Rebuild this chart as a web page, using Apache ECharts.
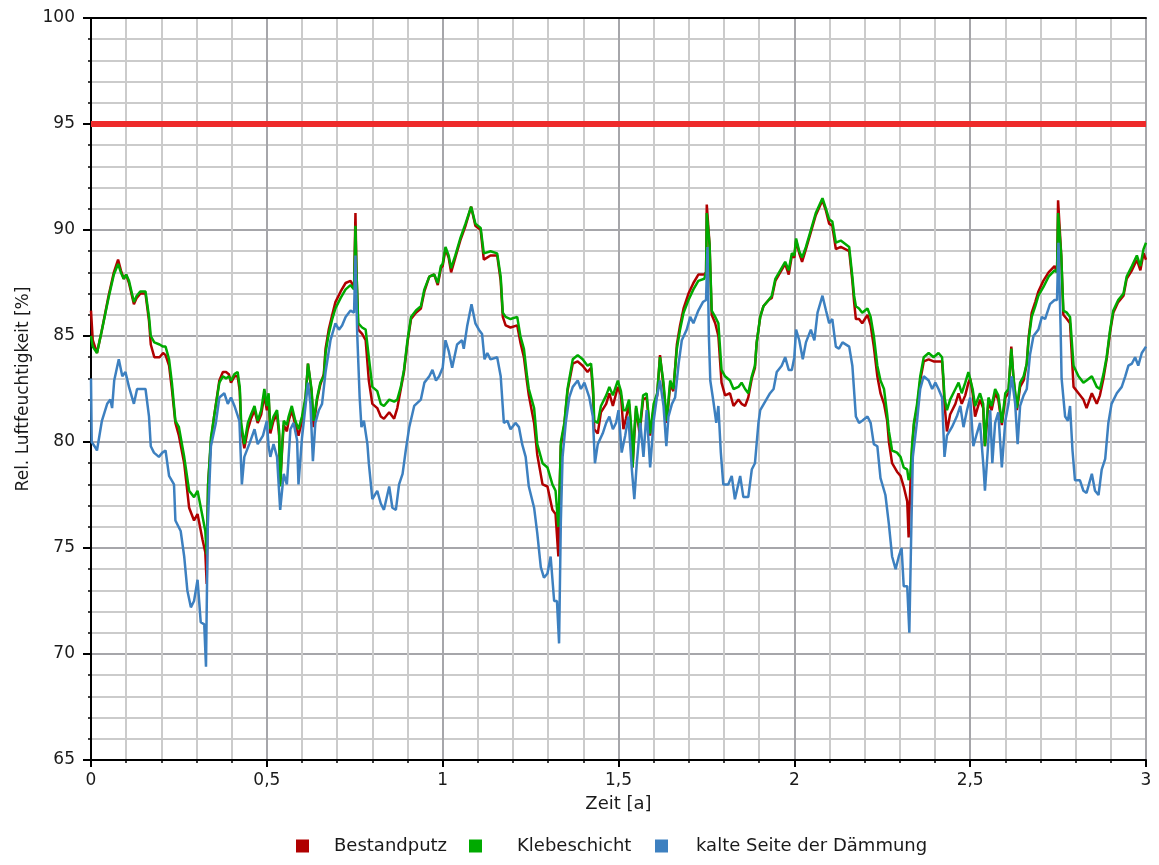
<!DOCTYPE html>
<html>
<head>
<meta charset="utf-8">
<script src="https://cdn.jsdelivr.net/npm/echarts@6/dist/echarts.min.js"></script>
<style>
html,body{margin:0;padding:0;background:#fff;}
#chart{width:1159px;height:865px;}
</style>
</head>
<body>
<div id="chart"></div>
<script>
// ---- Data ----
const seriesNames = ['Bestandputz', 'Klebeschicht', 'kalte Seite der Dämmung'];
const limitValue = 95;

// shared time axis [a] for Bestandputz / Klebeschicht
const timeInner = [
  0.000,0.005,0.017,0.030,0.050,0.065,0.077,0.085,0.093,0.100,0.108,0.122,0.130,0.140,0.155,0.165,0.170,0.180,0.195,0.205,0.212,0.222,0.230,0.240,0.250,0.265,0.279,0.293,0.303,0.317,0.325,0.329,0.333,0.341,0.350,0.365,0.375,0.384,0.392,0.398,0.408,0.417,0.423,0.427,0.436,0.446,0.455,0.465,0.474,0.484,0.493,0.500,
  0.505,0.510,0.519,0.529,0.535,0.538,0.544,0.548,0.557,0.562,0.571,0.581,0.590,0.600,0.610,0.617,0.627,0.633,0.643,0.652,0.662,0.667,0.676,0.686,0.695,0.710,0.724,0.738,0.748,0.752,0.755,0.760,0.771,0.781,0.790,0.800,0.814,0.824,0.833,0.848,0.862,0.871,0.881,0.890,0.900,0.910,0.924,0.938,0.948,0.962,0.976,0.986,0.995,
  1.000,1.008,1.017,1.024,1.036,1.050,1.065,1.081,1.093,1.108,1.117,1.136,1.155,1.165,1.171,1.179,1.193,1.212,1.221,1.231,1.240,1.245,1.260,1.269,1.284,1.298,1.312,1.321,1.329,1.333,1.336,1.346,1.355,1.370,1.384,1.398,1.412,1.422,1.428,1.431,1.441,1.450,1.465,1.474,1.484,1.498,
  1.507,1.514,1.521,1.530,1.537,1.540,1.545,1.550,1.560,1.570,1.580,1.590,1.600,1.610,1.618,1.628,1.637,1.647,1.656,1.666,1.675,1.685,1.699,1.713,1.727,1.744,1.749,1.751,1.759,1.765,1.775,1.784,1.793,1.803,1.817,1.827,1.841,1.850,1.860,1.869,1.879,1.888,1.893,1.903,1.912,1.927,1.936,1.946,1.960,1.974,1.984,1.993,
  2.000,2.005,2.014,2.022,2.033,2.047,2.061,2.080,2.090,2.099,2.108,2.118,2.132,2.156,2.165,2.170,2.175,2.184,2.193,2.208,2.217,2.226,2.236,2.245,2.255,2.264,2.269,2.278,2.292,2.302,2.311,2.321,2.325,2.330,2.335,2.340,2.349,2.358,2.368,2.382,2.396,2.410,2.420,2.424,2.427,2.434,2.443,2.458,2.467,2.476,2.486,2.495,
  2.500,2.507,2.514,2.528,2.537,2.542,2.547,2.552,2.561,2.571,2.580,2.590,2.600,2.609,2.617,2.623,2.633,2.642,2.652,2.661,2.666,2.675,2.685,2.694,2.708,2.723,2.740,2.747,2.750,2.759,2.765,2.775,2.784,2.794,2.808,2.822,2.831,2.846,2.860,2.869,2.879,2.888,2.898,2.907,2.921,2.936,2.945,2.960,2.974,2.984,2.993,3.000
];

const klebeschicht = [
  85.0,84.5,84.2,85.2,86.8,87.9,88.4,88.0,87.7,87.9,87.6,86.6,86.9,87.1,87.1,85.9,85.0,84.7,84.6,84.5,84.5,83.9,82.8,81.0,80.7,79.3,77.7,77.4,77.7,76.5,75.8,74.7,78.0,80.2,81.2,82.8,83.1,83.0,83.1,82.9,83.2,83.3,82.6,80.9,79.9,80.9,81.3,81.7,81.0,81.5,82.5,81.7,
  82.3,80.6,81.2,81.5,80.5,77.9,80.0,81.0,80.8,81.2,81.7,81.0,80.6,81.2,82.1,83.7,82.5,81.0,82.1,82.8,83.1,84.2,85.1,85.8,86.3,86.8,87.2,87.4,87.2,90.2,88.0,85.6,85.4,85.3,84.0,82.6,82.4,81.8,81.7,82.0,81.9,82.0,82.6,83.4,84.8,85.9,86.2,86.4,87.2,87.8,87.9,87.5,88.3,
  88.4,89.2,88.8,88.2,88.8,89.6,90.3,91.1,90.3,90.1,88.9,89.0,88.9,87.8,86.1,85.9,85.8,85.9,85.0,84.4,83.1,82.5,81.6,79.9,79.0,78.8,78.0,77.7,76.0,78.0,80.0,80.9,82.5,83.9,84.1,83.9,83.6,83.7,82.5,81.0,80.9,81.7,82.2,82.6,82.2,82.9,
  82.4,81.5,81.5,82.0,80.5,78.8,80.5,81.7,80.6,82.2,82.3,80.4,81.8,82.3,84.0,82.8,81.0,82.9,82.5,84.4,85.3,86.1,86.7,87.2,87.6,87.7,88.0,90.8,89.3,86.2,85.9,85.6,83.4,83.1,82.9,82.5,82.6,82.8,82.5,82.3,83.1,83.6,84.7,85.9,86.4,86.7,86.9,87.7,88.1,88.5,88.1,88.9,
  88.8,89.6,89.0,88.7,89.2,90.0,90.8,91.5,91.0,90.5,90.4,89.4,89.5,89.2,87.8,86.9,86.4,86.3,86.1,86.3,85.9,85.0,83.6,82.9,82.5,81.3,80.5,79.6,79.5,79.3,78.8,78.7,78.2,78.5,79.9,80.9,81.8,83.1,84.0,84.2,84.0,84.2,84.0,83.0,82.1,81.5,82.0,82.5,82.8,82.3,82.8,83.3,
  83.3,82.5,81.7,82.3,81.8,79.8,81.0,82.1,81.7,82.5,82.2,80.9,82.3,82.5,84.4,83.1,81.6,82.8,83.1,83.7,84.8,85.9,86.4,86.9,87.3,87.8,88.1,88.0,90.8,88.8,86.2,86.1,85.9,83.6,83.1,82.8,82.9,83.1,82.6,82.5,83.2,84.0,85.3,86.2,86.7,87.0,87.8,88.3,88.8,88.3,89.1,89.4
];

const bestandputz = [
  86.2,84.8,84.2,85.2,86.9,88.0,88.6,88.1,87.7,87.9,87.5,86.5,86.8,87.0,87.0,85.7,84.6,84.0,84.0,84.2,84.1,83.6,82.5,80.9,80.3,79.0,76.9,76.3,76.6,75.4,74.8,73.3,78.0,80.0,81.2,82.9,83.3,83.3,83.2,82.8,83.1,83.1,82.4,80.6,79.7,80.6,81.1,81.5,80.9,81.3,82.2,81.5,
  82.1,80.4,81.0,81.3,80.3,78.0,79.8,80.8,80.5,81.0,81.5,80.8,80.3,81.0,82.0,83.7,82.4,80.7,82.0,82.7,83.2,84.4,85.3,86.0,86.6,87.1,87.5,87.6,87.3,90.8,88.0,85.3,85.1,84.8,82.9,81.8,81.6,81.2,81.1,81.4,81.1,81.6,82.5,83.3,84.7,85.8,86.1,86.3,87.1,87.8,87.9,87.4,88.2,
  88.3,89.1,88.7,88.0,88.7,89.5,90.2,91.1,90.2,90.0,88.6,88.8,88.8,87.6,85.9,85.5,85.4,85.5,84.7,84.0,82.8,82.2,80.9,79.4,78.0,77.9,76.8,76.6,74.6,78.0,79.8,80.8,82.4,83.7,83.8,83.6,83.3,83.5,82.2,80.6,80.4,81.4,81.8,82.3,81.7,82.6,
  82.2,80.6,81.1,81.8,80.2,78.8,80.3,81.6,80.4,82.0,82.1,80.3,81.6,82.2,84.1,82.6,80.9,82.7,82.4,84.6,85.5,86.3,87.0,87.5,87.9,87.9,88.0,91.2,89.3,86.0,85.6,85.0,82.8,82.2,82.3,81.7,82.0,81.8,81.7,82.1,83.0,83.5,84.7,85.9,86.4,86.7,86.8,87.6,88.0,88.4,87.9,88.8,
  88.7,89.5,88.9,88.5,89.1,89.9,90.7,91.4,90.9,90.3,90.2,89.1,89.2,89.0,87.6,86.6,85.8,85.8,85.6,86.0,85.5,84.5,83.1,82.3,81.8,81.0,80.0,79.0,78.6,78.4,77.9,77.2,75.5,78.0,79.7,80.8,81.6,82.9,83.8,83.9,83.8,83.8,83.8,82.8,81.8,80.5,81.3,81.8,82.3,81.8,82.2,82.8,
  83.0,82.3,81.2,82.0,81.6,79.8,80.8,81.9,81.5,82.3,82.0,80.8,82.1,82.3,84.5,83.0,81.5,82.6,82.9,83.7,84.9,86.1,86.6,87.1,87.6,88.0,88.3,88.0,91.4,88.8,86.0,85.8,85.6,82.6,82.3,82.0,81.6,82.3,81.8,82.2,83.0,83.9,85.2,86.1,86.6,86.9,87.7,88.1,88.6,88.1,88.9,88.6
];

// time axis [a] for the cold side of the insulation
const timeCold = [
  0.000,0.002,0.010,0.017,0.031,0.046,0.055,0.060,0.066,0.079,0.089,0.098,0.108,0.122,0.131,0.155,0.165,0.170,0.179,0.193,0.203,0.212,0.222,0.236,0.240,0.255,0.265,0.274,0.284,0.293,0.303,0.312,0.322,0.327,0.332,0.341,0.355,0.365,0.379,0.389,0.398,0.408,0.422,0.429,0.436,0.450,0.465,0.474,0.489,0.500,
  0.505,0.510,0.519,0.529,0.538,0.548,0.557,0.567,0.576,0.586,0.590,0.600,0.610,0.617,0.624,0.631,0.638,0.648,0.657,0.667,0.681,0.695,0.705,0.714,0.724,0.738,0.748,0.752,0.757,0.764,0.769,0.776,0.786,0.790,0.800,0.814,0.824,0.833,0.848,0.857,0.867,0.876,0.886,0.895,0.905,0.919,0.938,0.948,0.962,0.971,0.981,0.990,1.000,
  1.008,1.017,1.027,1.041,1.055,1.060,1.070,1.082,1.093,1.103,1.112,1.119,1.127,1.136,1.155,1.165,1.174,1.184,1.193,1.207,1.217,1.226,1.236,1.245,1.260,1.269,1.279,1.288,1.298,1.307,1.317,1.325,1.331,1.336,1.341,1.350,1.360,1.370,1.384,1.393,1.403,1.417,1.427,1.433,1.441,1.455,1.465,1.474,1.484,1.493,1.500,
  1.509,1.519,1.528,1.538,1.545,1.552,1.562,1.571,1.580,1.590,1.600,1.609,1.618,1.628,1.636,1.642,1.652,1.661,1.671,1.680,1.694,1.704,1.713,1.727,1.740,1.749,1.753,1.757,1.761,1.770,1.778,1.784,1.791,1.798,1.812,1.822,1.831,1.846,1.855,1.869,1.879,1.888,1.898,1.903,1.917,1.931,1.941,1.950,1.964,1.974,1.984,1.993,2.000,
  2.005,2.014,2.024,2.033,2.047,2.057,2.066,2.080,2.090,2.099,2.108,2.118,2.127,2.137,2.156,2.165,2.175,2.184,2.193,2.208,2.217,2.226,2.236,2.245,2.259,2.269,2.278,2.288,2.297,2.305,2.311,2.321,2.327,2.333,2.337,2.349,2.358,2.368,2.382,2.392,2.401,2.410,2.420,2.427,2.434,2.448,2.462,2.472,2.481,2.491,2.500,
  2.509,2.519,2.528,2.538,2.542,2.550,2.557,2.563,2.571,2.580,2.590,2.600,2.609,2.618,2.628,2.635,2.642,2.652,2.661,2.670,2.680,2.694,2.704,2.713,2.727,2.740,2.747,2.751,2.757,2.760,2.770,2.778,2.784,2.791,2.798,2.812,2.822,2.831,2.846,2.855,2.865,2.874,2.884,2.893,2.902,2.917,2.931,2.941,2.950,2.960,2.969,2.978,2.988,3.000
];

const kalteSeite = [
  83.0,80.0,79.8,79.6,81.0,81.8,82.0,81.6,82.9,83.9,83.1,83.3,82.6,81.8,82.5,82.5,81.2,79.8,79.5,79.3,79.5,79.6,78.4,78.0,76.3,75.8,74.6,73.0,72.2,72.5,73.5,71.5,71.4,69.4,76.0,79.8,80.9,82.1,82.3,81.8,82.1,81.7,81.0,78.0,79.3,79.9,80.6,79.9,80.3,81.0,
  79.8,79.3,79.9,79.3,76.8,78.5,78.0,80.6,80.9,80.1,78.0,80.2,81.7,82.8,81.8,79.1,80.9,81.5,81.8,83.3,84.8,85.6,85.3,85.5,85.9,86.2,86.1,88.8,85.1,82.1,80.7,81.0,79.9,79.0,77.3,77.7,77.1,76.8,77.9,76.9,76.8,78.0,78.5,79.6,80.7,81.7,82.0,82.8,83.1,83.4,82.9,83.1,83.5,
  84.8,84.3,83.5,84.6,84.8,84.4,85.5,86.5,85.6,85.3,85.1,83.9,84.2,83.9,84.0,83.1,80.9,81.0,80.6,80.9,80.7,79.9,79.3,77.9,76.9,75.7,74.1,73.6,73.8,74.6,72.5,72.5,70.5,76.2,79.3,80.9,82.1,82.6,82.9,82.5,82.8,82.1,81.2,79.0,79.9,80.4,80.9,81.2,80.6,80.9,81.5,
  79.5,80.3,81.2,78.7,77.3,79.0,80.9,79.3,81.5,78.8,81.0,82.1,82.9,81.7,79.8,81.2,81.8,82.1,83.7,84.8,85.3,85.9,85.6,86.2,86.6,86.7,89.2,85.0,82.9,81.9,80.9,81.7,79.5,78.0,78.0,78.4,77.3,78.4,77.4,77.4,78.7,79.0,80.9,81.5,81.9,82.3,82.5,83.3,83.6,84.0,83.4,83.4,84.0,
  85.3,84.8,83.9,84.7,85.3,84.8,86.1,86.9,86.2,85.6,85.8,84.5,84.4,84.7,84.5,83.6,81.2,80.9,81.0,81.2,80.9,79.9,79.8,78.3,77.5,76.1,74.6,74.0,74.6,75.0,73.2,73.2,71.0,76.2,79.3,81.0,82.5,83.1,82.9,82.5,82.8,82.5,82.1,79.3,80.3,80.7,81.2,81.7,80.7,81.5,82.1,
  79.8,80.4,80.9,78.8,77.7,79.6,81.5,79.0,80.9,81.4,78.8,81.0,81.8,83.1,81.8,79.9,81.7,82.2,82.5,84.1,85.0,85.3,85.9,85.8,86.5,86.7,86.7,89.4,85.5,83.0,81.2,81.0,81.7,79.6,78.2,78.2,77.7,77.6,78.5,77.7,77.5,78.7,79.2,80.9,81.8,82.3,82.6,83.1,83.6,83.7,84.0,83.6,84.2,84.5
];

const xRange = [0, 3];
const yRange = [65, 100];

// ---- Build chart ----
function pairs(ts, vs) {
  const n = Math.min(ts.length, vs.length);
  const out = [];
  for (let i = 0; i < n; i++) out.push([ts[i], vs[i]]);
  return out;
}
const FONT = 'DejaVu Sans';
const chart = echarts.init(document.getElementById('chart'), null, {renderer: 'canvas'});
const lineBase = {type: 'line', showSymbol: false, symbol: 'none', animation: false, lineStyle: {width: 2.5}, xAxisIndex: 0, yAxisIndex: 0};

function legendItem(name, left, textPad) {
  return {
    data: [name], left: left, top: 837, padding: 0,
    icon: 'rect', itemWidth: 13, itemHeight: 13,
    textStyle: {fontFamily: FONT, fontSize: 18, color: '#1a1a1a', padding: [0, 0, 0, textPad]}
  };
}

chart.setOption({
  backgroundColor: '#ffffff',
  animation: false,
  textStyle: {fontFamily: FONT},
  grid: {left: 91, right: 13, top: 18, bottom: 105, containLabel: false},
  legend: [
    legendItem(seriesNames[0], 296, 20),
    legendItem(seriesNames[1], 469, 30),
    legendItem(seriesNames[2], 655, 23)
  ],
  xAxis: [{
    type: 'value', min: xRange[0], max: xRange[1], interval: 0.5,
    name: 'Zeit [a]', nameLocation: 'middle', nameGap: 35,
    nameTextStyle: {fontFamily: FONT, fontSize: 18, color: '#1a1a1a'},
    axisLine: {show: true, onZero: false, lineStyle: {color: '#000', width: 2}},
    axisTick: {show: true, length: 7, lineStyle: {color: '#000', width: 2}},
    minorTick: {show: true, splitNumber: 5, length: 3, lineStyle: {color: '#000', width: 1.5}},
    axisLabel: {fontFamily: FONT, fontSize: 17, color: '#1a1a1a', margin: 12,
      formatter: v => String(+v.toFixed(2)).replace('.', ',')},
    splitLine: {show: true, lineStyle: {color: '#a6a6aa', width: 2}},
    minorSplitLine: {show: true, lineStyle: {color: '#cbcbcb', width: 2}}
  }, {
    type: 'value', min: xRange[0], max: xRange[1], position: 'top',
    axisLine: {show: true, onZero: false, lineStyle: {color: '#000', width: 2}},
    axisTick: {show: false}, axisLabel: {show: false}, splitLine: {show: false}
  }],
  yAxis: {
    type: 'value', min: yRange[0], max: yRange[1], interval: 5,
    name: 'Rel. Luftfeuchtigkeit [%]', nameLocation: 'middle', nameGap: 58,
    nameTextStyle: {fontFamily: FONT, fontSize: 17, color: '#1a1a1a'},
    axisLine: {show: true, onZero: false, lineStyle: {color: '#000', width: 2}},
    axisTick: {show: true, length: 8, lineStyle: {color: '#000', width: 2}},
    minorTick: {show: true, splitNumber: 5, length: 3, lineStyle: {color: '#000', width: 1.5}},
    axisLabel: {fontFamily: FONT, fontSize: 17, color: '#1a1a1a', margin: 16},
    splitLine: {show: true, lineStyle: {color: '#a6a6aa', width: 2}},
    minorSplitLine: {show: true, lineStyle: {color: '#cbcbcb', width: 2}}
  },
  series: [
    Object.assign({}, lineBase, {
      name: 'Grenzwert', data: pairs(xRange, [limitValue, limitValue]),
      lineStyle: {width: 6, color: '#ee2a2a'}, itemStyle: {color: '#ee2a2a'}, z: 3
    }),
    Object.assign({}, lineBase, {
      name: seriesNames[0], data: pairs(timeInner, bestandputz),
      lineStyle: {width: 2.5, color: '#b00000'}, itemStyle: {color: '#b00000'}, z: 4
    }),
    Object.assign({}, lineBase, {
      name: seriesNames[1], data: pairs(timeInner, klebeschicht),
      lineStyle: {width: 2.5, color: '#00aa00'}, itemStyle: {color: '#00aa00'}, z: 5
    }),
    Object.assign({}, lineBase, {
      name: seriesNames[2], data: pairs(timeCold, kalteSeite),
      lineStyle: {width: 2.5, color: '#3d80c0'}, itemStyle: {color: '#3d80c0'}, z: 6
    })
  ]
});
</script>
</body>
</html>
